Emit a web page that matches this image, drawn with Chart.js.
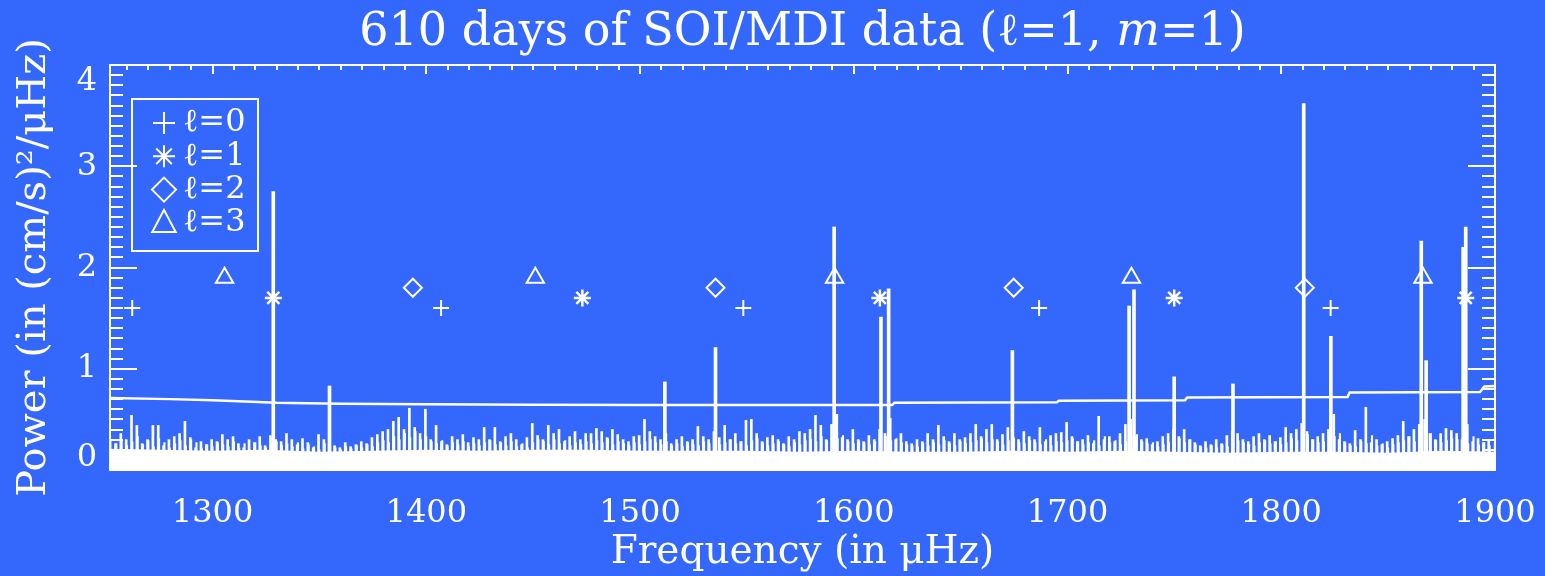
<!DOCTYPE html>
<html>
<head>
<meta charset="utf-8">
<title>610 days of SOI/MDI data</title>
<script src="https://cdn.jsdelivr.net/npm/chart.js@4.4.1/dist/chart.umd.min.js"></script>
<style>
  html, body { margin: 0; padding: 0; background: #3467fc; }
  #chart { display: block; }
</style>
</head>
<body>
<canvas id="chart" width="1545" height="576"></canvas>
<script>
// axis range (muHz) and y range
const FREQ_MIN = 1252;
const FREQ_MAX = 1900;
const POWER_MAX = 4;

// noise spectrum, one value per 2.5 muHz bin starting at 1253
const NOISE_START = 1253;
const NOISE_STEP = 2.5;
const noisePower = [
    0.30, 0.26, 0.36, 0.30, 0.54, 0.44, 0.26, 0.30, 0.44, 0.44,
    0.24, 0.30, 0.33, 0.36, 0.48, 0.32, 0.22, 0.28, 0.25, 0.30,
    0.28, 0.35, 0.30, 0.33, 0.26, 0.22, 0.30, 0.27, 0.33, 0.24,
    0.34, 0.30, 0.28, 0.36, 0.30, 0.25, 0.31, 0.27, 0.22, 0.35,
    0.30, 0.26, 0.24, 0.22, 0.27, 0.23, 0.25, 0.28, 0.26, 0.32,
    0.35, 0.38, 0.40, 0.48, 0.52, 0.40, 0.61, 0.42, 0.36, 0.60,
    0.30, 0.44, 0.28, 0.25, 0.33, 0.30, 0.35, 0.27, 0.32, 0.30,
    0.42, 0.30, 0.42, 0.28, 0.33, 0.36, 0.30, 0.25, 0.32, 0.46,
    0.34, 0.30, 0.44, 0.36, 0.40, 0.28, 0.33, 0.38, 0.30, 0.36,
    0.36, 0.41, 0.38, 0.32, 0.40, 0.35, 0.30, 0.28, 0.33, 0.34,
    0.50, 0.38, 0.33, 0.30, 0.36, 0.26, 0.30, 0.33, 0.28, 0.30,
    0.43, 0.33, 0.30, 0.38, 0.32, 0.44, 0.30, 0.36, 0.28, 0.49,
    0.50, 0.36, 0.28, 0.32, 0.34, 0.30, 0.26, 0.33, 0.30, 0.38,
    0.36, 0.40, 0.54, 0.44, 0.30, 0.45, 0.55, 0.32, 0.30, 0.40,
    0.30, 0.28, 0.34, 0.30, 0.40, 0.36, 0.51, 0.30, 0.36, 0.28,
    0.26, 0.30, 0.28, 0.36, 0.30, 0.44, 0.33, 0.28, 0.36, 0.30,
    0.32, 0.36, 0.45, 0.33, 0.40, 0.45, 0.30, 0.35, 0.42, 0.33,
    0.30, 0.38, 0.33, 0.30, 0.42, 0.28, 0.34, 0.36, 0.37, 0.47,
    0.33, 0.28, 0.30, 0.34, 0.26, 0.53, 0.30, 0.33, 0.28, 0.36,
    0.45, 0.50, 0.33, 0.30, 0.31, 0.25, 0.28, 0.33, 0.36, 0.40,
    0.33, 0.40, 0.30, 0.27, 0.24, 0.28, 0.25, 0.30, 0.26, 0.34,
    0.38, 0.36, 0.30, 0.28, 0.33, 0.36, 0.30, 0.34, 0.28, 0.32,
    0.42, 0.36, 0.40, 0.46, 0.38, 0.30, 0.33, 0.36, 0.40, 0.55,
    0.30, 0.28, 0.26, 0.39, 0.30, 0.62, 0.27, 0.30, 0.25, 0.28,
    0.31, 0.34, 0.48, 0.33, 0.40, 0.45, 0.50, 0.36, 0.30, 0.36,
    0.41, 0.39, 0.36, 0.30, 0.45, 0.28, 0.31, 0.27, 0.29
];

// lower grass between those bins, offset by half a bin
const LOW_START = 1254.25;
const noiseLowPower = [
    0.26, 0.30, 0.24, 0.28, 0.33, 0.25, 0.29, 0.23, 0.31, 0.27,
    0.22, 0.26, 0.29, 0.24, 0.30, 0.27, 0.21, 0.25, 0.23, 0.27,
    0.25, 0.23, 0.28, 0.22, 0.26, 0.20, 0.27, 0.24, 0.22, 0.26,
    0.28, 0.24, 0.26, 0.23, 0.27, 0.21, 0.25, 0.23, 0.20, 0.26,
    0.24, 0.22, 0.20, 0.23, 0.21, 0.24, 0.22, 0.25, 0.23, 0.27,
    0.29, 0.27, 0.33, 0.30, 0.36, 0.32, 0.38, 0.30, 0.33, 0.28,
    0.26, 0.29, 0.24, 0.27, 0.25, 0.28, 0.23, 0.26, 0.24, 0.27,
    0.29, 0.25, 0.27, 0.24, 0.28, 0.23, 0.26, 0.22, 0.27, 0.30,
    0.28, 0.25, 0.30, 0.26, 0.29, 0.24, 0.27, 0.25, 0.28, 0.26,
    0.29, 0.27, 0.31, 0.25, 0.28, 0.26, 0.24, 0.27, 0.25, 0.28,
    0.30, 0.27, 0.25, 0.28, 0.24, 0.26, 0.23, 0.27, 0.25, 0.24,
    0.28, 0.26, 0.29, 0.25, 0.27, 0.30, 0.26, 0.28, 0.24, 0.29,
    0.31, 0.27, 0.24, 0.26, 0.28, 0.25, 0.23, 0.27, 0.25, 0.29,
    0.30, 0.28, 0.33, 0.29, 0.27, 0.31, 0.34, 0.28, 0.26, 0.29,
    0.27, 0.25, 0.28, 0.30, 0.33, 0.29, 0.31, 0.27, 0.25, 0.24,
    0.23, 0.26, 0.24, 0.27, 0.25, 0.29, 0.26, 0.24, 0.28, 0.26,
    0.27, 0.29, 0.31, 0.27, 0.30, 0.28, 0.25, 0.29, 0.31, 0.27,
    0.26, 0.29, 0.27, 0.25, 0.30, 0.24, 0.28, 0.27, 0.29, 0.31,
    0.28, 0.25, 0.27, 0.29, 0.24, 0.33, 0.27, 0.29, 0.25, 0.28,
    0.33, 0.35, 0.28, 0.26, 0.27, 0.23, 0.25, 0.27, 0.29, 0.31,
    0.27, 0.30, 0.25, 0.23, 0.22, 0.24, 0.22, 0.25, 0.23, 0.27,
    0.29, 0.27, 0.25, 0.24, 0.27, 0.29, 0.26, 0.28, 0.25, 0.27,
    0.31, 0.29, 0.33, 0.35, 0.30, 0.27, 0.28, 0.30, 0.33, 0.36,
    0.27, 0.24, 0.23, 0.28, 0.26, 0.34, 0.24, 0.26, 0.22, 0.25,
    0.27, 0.29, 0.33, 0.28, 0.31, 0.34, 0.36, 0.29, 0.27, 0.29,
    0.31, 0.30, 0.28, 0.26, 0.33, 0.25, 0.27, 0.24, 0.26
];

// solid lower band of the spectrum
const floorFreq = [1252, 1275, 1300, 1325, 1350, 1375, 1400, 1425, 1450, 1475, 1500, 1525, 1550, 1575,
    1600, 1625, 1650, 1675, 1700, 1725, 1750, 1775, 1800, 1825, 1850, 1875, 1900];
const floorPower = [0.21, 0.20, 0.19, 0.20, 0.18, 0.19, 0.20, 0.19, 0.20, 0.20, 0.19, 0.19, 0.19, 0.18,
    0.19, 0.18, 0.18, 0.19, 0.18, 0.19, 0.18, 0.17, 0.18, 0.18, 0.17, 0.19, 0.18];

// tall peaks
const peakFreq = [1328.4, 1354.7, 1511.6, 1535.3, 1590.8, 1612.7, 1616.3, 1674.2, 1728.8, 1731.1,
    1749.9, 1777.4, 1810.5, 1823.2, 1865.5, 1867.8, 1885.1, 1886.3];
const peakPower = [2.75, 0.83, 0.87, 1.21, 2.40, 1.51, 1.79, 1.18, 1.62, 1.78,
    0.92, 0.85, 3.62, 1.32, 2.26, 1.08, 2.20, 2.40];

// detection threshold
const thresholdFreq = [1252, 1280, 1300, 1330, 1360, 1400, 1450, 1500, 1560, 1618, 1619, 1695, 1696,
    1755, 1756, 1831, 1832, 1893, 1895, 1900];
const thresholdPower = [0.71, 0.70, 0.69, 0.665, 0.655, 0.65, 0.645, 0.642, 0.642, 0.642, 0.665, 0.67, 0.685,
    0.69, 0.715, 0.72, 0.765, 0.77, 0.825, 0.83];

// expected mode frequencies
const l0Freq = [1262.4, 1406.9, 1548.3, 1686.7, 1823.1];
const l0Power = [1.6, 1.6, 1.6, 1.6, 1.6];
const l1Freq = [1328.4, 1473.0, 1612.2, 1749.9, 1886.3];
const l1Power = [1.7, 1.7, 1.7, 1.7, 1.7];
const l2Freq = [1393.7, 1535.3, 1674.8, 1811.0];
const l2Power = [1.8, 1.8, 1.8, 1.8];
const l3Freq = [1305.6, 1451.0, 1591.0, 1729.9, 1866.3];
const l3Power = [1.9, 1.9, 1.9, 1.9, 1.9];

const legendLabels = ['\u2113=0', '\u2113=1', '\u2113=2', '\u2113=3'];
const legendStyles = ['cross', 'star', 'rectRot', 'triangle'];

const FG = '#ffffff';
const FONT = '"DejaVu Serif", "Liberation Serif", serif';

function pts(xs, ys) {
    return xs.map((x, i) => ({ x: x, y: ys[i] }));
}

const noiseData = noisePower.map((p, i) => ({ x: NOISE_START + i * NOISE_STEP, y: p }));
const noiseLowData = noiseLowPower.map((p, i) => ({ x: LOW_START + i * NOISE_STEP, y: p }));

function drawSymbol(ctx, style, x, y, r) {
    ctx.beginPath();
    if (style === 'cross' || style === 'star') {
        ctx.moveTo(x - r, y); ctx.lineTo(x + r, y);
        ctx.moveTo(x, y - r); ctx.lineTo(x, y + r);
        if (style === 'star') {
            const d = r * Math.SQRT1_2;
            ctx.moveTo(x - d, y - d); ctx.lineTo(x + d, y + d);
            ctx.moveTo(x - d, y + d); ctx.lineTo(x + d, y - d);
        }
    } else if (style === 'rectRot') {
        ctx.moveTo(x, y - r); ctx.lineTo(x + r, y);
        ctx.lineTo(x, y + r); ctx.lineTo(x - r, y); ctx.closePath();
    } else {
        ctx.moveTo(x, y - r); ctx.lineTo(x + r * 0.9, y + r * 0.7);
        ctx.lineTo(x - r * 0.9, y + r * 0.7); ctx.closePath();
    }
    ctx.stroke();
}

// frame, inward ticks, title and the boxed legend
const decorPlugin = {
    id: 'decor',
    beforeDraw(chart) {
        // IDL keeps the end labels inside the axis
        const items = chart.scales.y.getLabelItems();
        items.forEach(it => {
            if (it.label === '4') it.options.translation[1] += 17;
            if (it.label === '0') it.options.translation[1] -= 12;
        });
    },
    afterDatasetsDraw(chart) {
        const { ctx, chartArea: a, scales: { x, y } } = chart;
        ctx.save();
        ctx.strokeStyle = FG;
        ctx.lineWidth = 2;
        ctx.strokeRect(a.left, a.top, a.right - a.left, a.bottom - a.top);
        ctx.beginPath();
        for (let v = 0; v <= POWER_MAX * 10; v++) {
            const py = Math.round(y.getPixelForValue(v / 10));
            const len = v % 10 === 0 ? 27 : 13;
            ctx.moveTo(a.left, py); ctx.lineTo(a.left + len, py);
            ctx.moveTo(a.right, py); ctx.lineTo(a.right - len, py);
        }
        for (let f = 1260; f <= FREQ_MAX; f += 10) {
            const px = Math.round(x.getPixelForValue(f));
            const len = f % 100 === 0 ? 9 : 5;
            ctx.moveTo(px, a.top); ctx.lineTo(px, a.top + len);
            ctx.moveTo(px, a.bottom); ctx.lineTo(px, a.bottom - len);
        }
        ctx.stroke();

        // legend box
        const bx = a.left + 22, by = a.top + 34;
        ctx.strokeRect(bx, by, 126, 152);
        ctx.fillStyle = FG;
        ctx.font = '32px ' + FONT;
        ctx.textBaseline = 'middle';
        ctx.textAlign = 'left';
        const sizes = [11, 11, 12, 13];
        legendLabels.forEach((label, i) => {
            const ry = by + 24 + i * 33.3;
            drawSymbol(ctx, legendStyles[i], bx + 32, ry, sizes[i]);
            ctx.fillText(label, bx + 51, ry);
        });

        // title, centred over the plot
        const parts = [
            { t: '610 days of SOI/MDI data (\u2113=1, ', f: '46px ' + FONT },
            { t: 'm', f: 'italic 46px ' + FONT },
            { t: '=1)', f: '46px ' + FONT }
        ];
        let total = 0;
        parts.forEach(p => { ctx.font = p.f; p.w = ctx.measureText(p.t).width; total += p.w; });
        let tx = (a.left + a.right) / 2 - total / 2;
        parts.forEach(p => { ctx.font = p.f; ctx.fillText(p.t, tx, 33); tx += p.w; });
        ctx.restore();
    }
};

const ctx = document.getElementById('chart').getContext('2d');

new Chart(ctx, {
    type: 'bar',
    data: {
        datasets: [
            {
                type: 'line', label: 'l=0', data: pts(l0Freq, l0Power), showLine: false,
                pointStyle: 'cross', pointRadius: 8, pointBorderWidth: 2, pointBorderColor: FG
            },
            {
                type: 'line', label: 'l=1', data: pts(l1Freq, l1Power), showLine: false,
                pointStyle: 'star', pointRadius: 8.5, pointBorderWidth: 2.5, pointBorderColor: FG
            },
            {
                type: 'line', label: 'l=2', data: pts(l2Freq, l2Power), showLine: false,
                pointStyle: 'rectRot', pointRadius: 9, pointBorderWidth: 2, pointBorderColor: FG,
                pointBackgroundColor: 'rgba(0,0,0,0)'
            },
            {
                type: 'line', label: 'l=3', data: pts(l3Freq, l3Power), showLine: false,
                pointStyle: 'triangle', pointRadius: 10, pointBorderWidth: 2, pointBorderColor: FG,
                pointBackgroundColor: 'rgba(0,0,0,0)'
            },
            {
                type: 'line', label: 'threshold', data: pts(thresholdFreq, thresholdPower),
                borderColor: FG, borderWidth: 2.5, pointRadius: 0, tension: 0
            },
            {
                type: 'bar', label: 'peaks', data: pts(peakFreq, peakPower), xAxisID: 'xm',
                backgroundColor: FG, barThickness: 3
            },
            {
                type: 'bar', label: 'noise', data: noiseData, xAxisID: 'x',
                backgroundColor: FG, barThickness: 2
            },
            {
                type: 'bar', label: 'noise low', data: noiseLowData, xAxisID: 'xn',
                backgroundColor: FG, barThickness: 1.5
            },
            {
                type: 'line', label: 'floor', data: pts(floorFreq, floorPower),
                borderWidth: 0, borderColor: FG, backgroundColor: FG, fill: 'origin', pointRadius: 0
            }
        ]
    },
    options: {
        responsive: false,
        animation: false,
        layout: { padding: { left: 0, right: 50, top: 65, bottom: 0 } },
        plugins: {
            legend: { display: false },
            tooltip: { enabled: false },
            title: { display: false }
        },
        scales: {
            x: {
                type: 'linear', min: FREQ_MIN, max: FREQ_MAX, offset: false,
                grid: { display: false, drawTicks: false },
                border: { display: false },
                ticks: {
                    stepSize: 100, includeBounds: false, maxRotation: 0, padding: 24,
                    color: FG, font: { family: FONT, size: 32 },
                    callback: v => String(v)
                },
                title: {
                    display: true, text: 'Frequency (in \u03bcHz)', color: FG,
                    font: { family: FONT, size: 39 }, padding: { top: 0, bottom: 0 }
                },
                afterFit: s => { s.height = 106; s.paddingLeft = 0; s.paddingRight = 0; }
            },
            xm: {
                type: 'linear', min: FREQ_MIN, max: FREQ_MAX, offset: false, display: false
            },
            xn: {
                type: 'linear', min: FREQ_MIN, max: FREQ_MAX, offset: false, display: false
            },
            y: {
                min: 0, max: POWER_MAX,
                grid: { display: false, drawTicks: false },
                border: { display: false },
                ticks: { stepSize: 1, padding: 13, color: FG, font: { family: FONT, size: 32 } },
                title: {
                    display: true, text: 'Power (in (cm/s)\u00b2/\u03bcHz)', color: FG,
                    font: { family: FONT, size: 40 }, padding: { top: 11, bottom: 0 }
                },
                afterFit: s => { s.width = 110; }
            }
        }
    },
    plugins: [decorPlugin]
});
</script>
</body>
</html>
